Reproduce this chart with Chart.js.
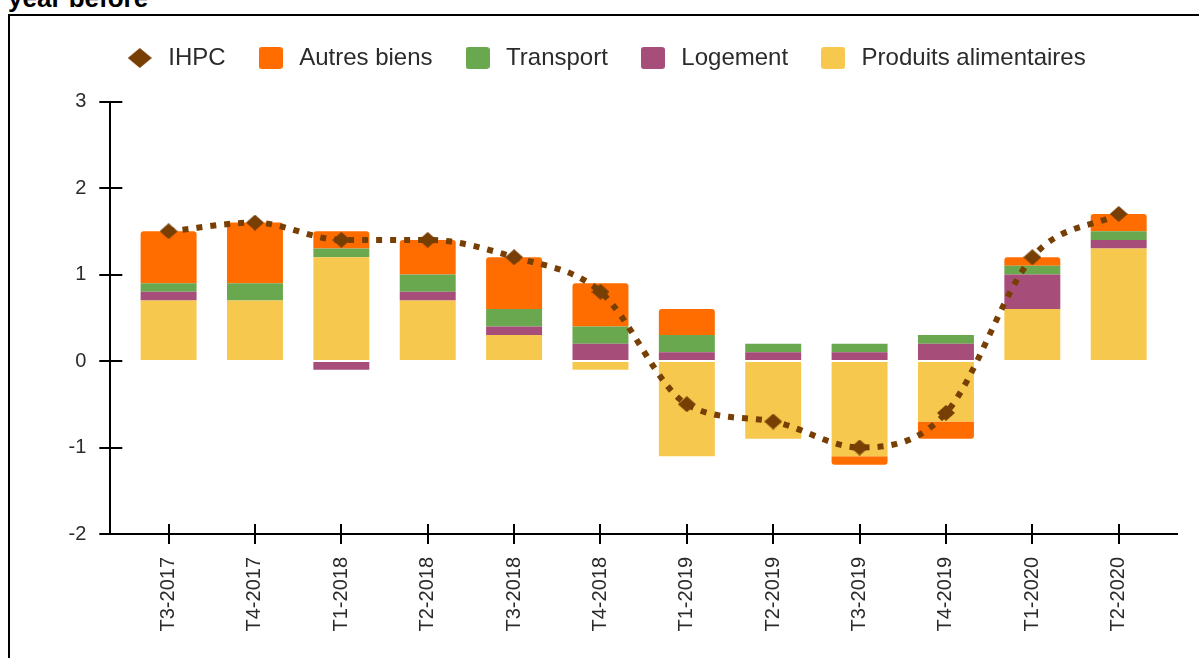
<!DOCTYPE html>
<html>
<head>
<meta charset="utf-8">
<script src="https://cdn.jsdelivr.net/npm/chart.js@4.4.1/dist/chart.umd.min.js"></script>
<style>
  html, body { margin: 0; padding: 0; background: #fff; width: 1199px; height: 658px; overflow: hidden; }
  #title { position: absolute; left: 8px; top: -15px; font: bold 26px "Liberation Sans", Arial, sans-serif; line-height: 26px; color: #000; white-space: nowrap; }
  #frame { position: absolute; left: 8px; top: 14px; width: 1400px; height: 900px; border-left: 2px solid #000; border-top: 2px solid #000; }
  #wrap { position: absolute; left: 10px; top: 16px; width: 1189px; height: 642px; }
</style>
</head>
<body>
<div id="title">year before</div>
<div id="frame"></div>
<div id="wrap"><canvas id="chart" width="1189" height="642"></canvas></div>
<script>
// Quarterly contributions to inflation (percentage points) and headline HICP
const quarters = ['T3-2017', 'T4-2017', 'T1-2018', 'T2-2018', 'T3-2018', 'T4-2018',
                  'T1-2019', 'T2-2019', 'T3-2019', 'T4-2019', 'T1-2020', 'T2-2020'];
const ihpc                 = [1.5, 1.6, 1.4, 1.4, 1.2, 0.8, -0.5, -0.7, -1.0, -0.6, 1.2, 1.7];
const autresBiens          = [0.6, 0.7, 0.2, 0.4, 0.6, 0.5, 0.3, 0, -0.1, -0.2, 0.1, 0.2];
const transport            = [0.1, 0.2, 0.1, 0.2, 0.2, 0.2, 0.2, 0.1, 0.1, 0.1, 0.1, 0.1];
const logement             = [0.1, 0, -0.1, 0.1, 0.1, 0.2, 0.1, 0.1, 0.1, 0.2, 0.4, 0.1];
const produitsAlimentaires = [0.7, 0.7, 1.2, 0.7, 0.3, -0.1, -1.1, -0.9, -1.1, -0.7, 0.6, 1.3];
const yTickValues = [-2, -1, 0, 1, 2, 3];

const COLORS = {
  ihpc: '#783f04',
  autres: '#ff6d01',
  transport: '#6aa84f',
  logement: '#a64d79',
  produits: '#f6c94e'
};
const TEXT = '#2b2b2b';
const AXIS = '#000';
const FONT = '"Liberation Sans", Arial, sans-serif';

// Small bitmap markers for the legend and the HICP points
function diamondMarker(w, h, color) {
  const c = document.createElement('canvas');
  c.width = w; c.height = h;
  const g = c.getContext('2d');
  g.fillStyle = color;
  g.beginPath();
  g.moveTo(w / 2, 0); g.lineTo(w, h / 2); g.lineTo(w / 2, h); g.lineTo(0, h / 2);
  g.closePath(); g.fill();
  return c;
}
function boxMarker(w, h, r, color) {
  const c = document.createElement('canvas');
  c.width = w; c.height = h;
  const g = c.getContext('2d');
  g.fillStyle = color;
  g.beginPath();
  g.moveTo(r, 0); g.lineTo(w - r, 0); g.quadraticCurveTo(w, 0, w, r);
  g.lineTo(w, h - r); g.quadraticCurveTo(w, h, w - r, h);
  g.lineTo(r, h); g.quadraticCurveTo(0, h, 0, h - r);
  g.lineTo(0, r); g.quadraticCurveTo(0, 0, r, 0);
  g.closePath(); g.fill();
  return c;
}

const pointDiamond = diamondMarker(18, 16, COLORS.ihpc);
const legendMarkers = [
  diamondMarker(24, 20, COLORS.ihpc),
  boxMarker(24, 22, 3, COLORS.autres),
  boxMarker(24, 22, 3, COLORS.transport),
  boxMarker(24, 22, 3, COLORS.logement),
  boxMarker(24, 22, 3, COLORS.produits)
];

// Legend band height above the plot
const legendHeight = {
  id: 'legendHeight',
  beforeInit(chart) {
    const legend = chart.legend;
    const fit = legend.fit;
    legend.fit = function () { fit.call(this); this.height = 84; };
  }
};

// Tick marks crossing the axes (inner halves)
const innerTicks = {
  id: 'innerTicks',
  afterDraw(chart) {
    const { ctx, chartArea, scales } = chart;
    ctx.save();
    ctx.strokeStyle = AXIS;
    ctx.lineWidth = 2;
    ctx.beginPath();
    scales.y.ticks.forEach((t, i) => {
      const py = Math.round(scales.y.getPixelForTick(i));
      ctx.moveTo(chartArea.left, py); ctx.lineTo(chartArea.left + 12, py);
    });
    scales.x.ticks.forEach((t, i) => {
      const px = Math.round(scales.x.getPixelForTick(i));
      ctx.moveTo(px, chartArea.bottom); ctx.lineTo(px, chartArea.bottom - 10);
    });
    ctx.stroke();
    ctx.restore();
  }
};

Chart.defaults.font.family = FONT;

const positions = quarters.map((q, i) => i);

const barDefaults = { type: 'bar', categoryPercentage: 1, barPercentage: 0.648, borderWidth: 0 };

new Chart(document.getElementById('chart'), {
  data: {
    labels: positions,
    datasets: [
      {
        type: 'line', label: 'IHPC', data: ihpc, order: 0,
        borderColor: COLORS.ihpc, backgroundColor: COLORS.ihpc,
        borderWidth: 6, borderDash: [6, 8], borderCapStyle: 'butt',
        cubicInterpolationMode: 'monotone', tension: 0.4, fill: false,
        pointStyle: pointDiamond, pointRadius: 9
      },
      Object.assign({ label: 'Autres biens', data: autresBiens, order: 4,
        backgroundColor: COLORS.autres, borderRadius: 3, borderSkipped: 'start' }, barDefaults),
      Object.assign({ label: 'Transport', data: transport, order: 3,
        backgroundColor: COLORS.transport }, barDefaults),
      Object.assign({ label: 'Logement', data: logement, order: 2,
        backgroundColor: COLORS.logement }, barDefaults),
      Object.assign({ label: 'Produits alimentaires', data: produitsAlimentaires, order: 1,
        backgroundColor: COLORS.produits }, barDefaults)
    ]
  },
  options: {
    responsive: false,
    animation: false,
    events: [],
    layout: { padding: { left: 22, right: 22, top: 1.5, bottom: 0 } },
    plugins: {
      tooltip: { enabled: false },
      title: { display: false },
      legend: {
        display: true,
        position: 'top',
        labels: {
          usePointStyle: true,
          pointStyleWidth: 33,
          padding: 28.5,
          color: TEXT,
          font: { size: 24, family: FONT },
          sort: (a, b) => a.datasetIndex - b.datasetIndex,
          generateLabels(chart) {
            const items = Chart.defaults.plugins.legend.labels.generateLabels(chart);
            items.forEach(it => { it.pointStyle = legendMarkers[it.datasetIndex]; it.lineWidth = 0; });
            return items;
          }
        }
      }
    },
    scales: {
      x: {
        type: 'linear',
        stacked: true,
        offset: false,
        min: -0.675,
        max: quarters.length - 1 + 0.675,
        afterFit(scale) { scale.height = 124; },
        border: { display: true, color: AXIS, width: 2 },
        grid: { display: true, offset: false, drawOnChartArea: false, drawTicks: true, tickLength: 10, color: AXIS, lineWidth: 2 },
        ticks: {
          stepSize: 1,
          includeBounds: false,
          autoSkip: false,
          minRotation: 90,
          maxRotation: 90,
          padding: 13,
          color: TEXT,
          font: { size: 20, family: FONT },
          callback: (v) => quarters[v]
        }
      },
      y: {
        stacked: true,
        min: yTickValues[0],
        max: yTickValues[yTickValues.length - 1],
        afterFit(scale) { scale.width = 78.3; },
        border: { display: true, color: AXIS, width: 2 },
        grid: { display: true, drawOnChartArea: false, drawTicks: true, tickLength: 11, color: AXIS, lineWidth: 2 },
        ticks: {
          stepSize: 1,
          padding: 13,
          color: TEXT,
          font: { size: 20, family: FONT },
          callback: (v) => String(v)
        }
      }
    }
  },
  plugins: [legendHeight, innerTicks]
});
</script>
</body>
</html>
